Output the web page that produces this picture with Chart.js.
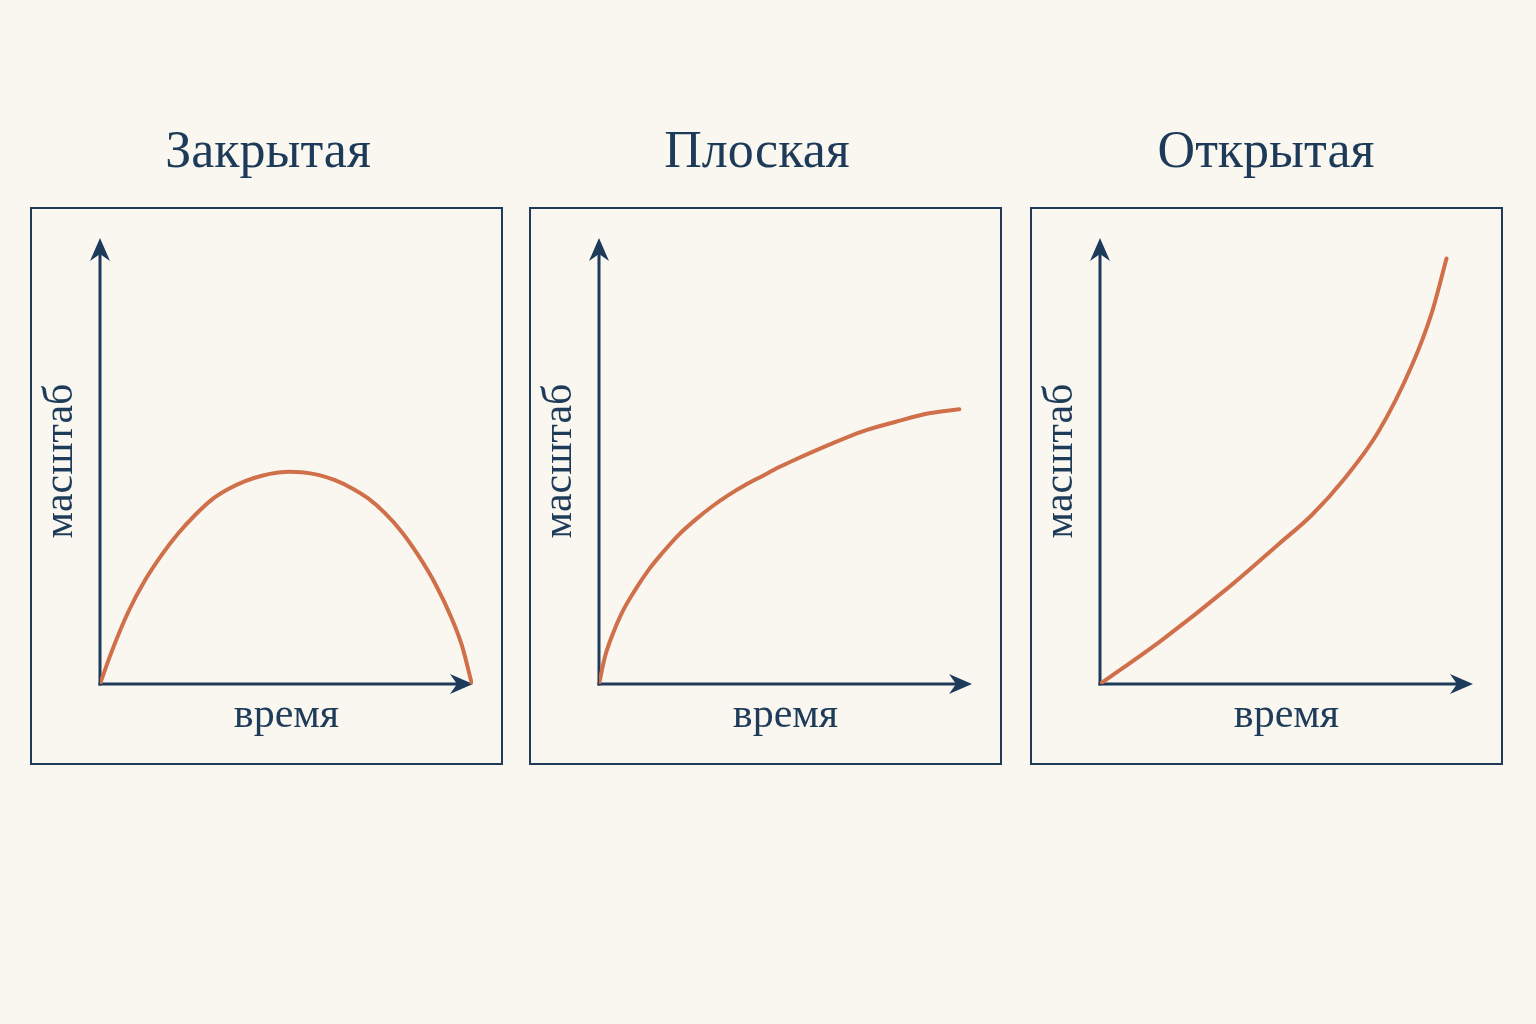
<!DOCTYPE html>
<html lang="ru">
<head>
<meta charset="utf-8">
<script src="https://cdn.jsdelivr.net/npm/chart.js"></script>
<style>
html,body{margin:0;padding:0;background:#faf7f1;}
body{width:1536px;height:1024px;position:relative;overflow:hidden;font-family:"Liberation Serif",serif;}
.title{position:absolute;top:124px;width:400px;margin-left:-200px;text-align:center;font-size:52px;line-height:52px;color:#1d3b58;white-space:nowrap;}
.box{position:absolute;top:207px;height:554px;width:469px;border:2px solid #1f3b57;}
.box canvas{position:absolute;left:0;top:0;}
</style>
</head>
<body>
<div class="title" style="left:268px">Закрытая</div>
<div class="title" style="left:757px">Плоская</div>
<div class="title" style="left:1266px">Открытая</div>
<div class="box" style="left:30px"><canvas id="c0" width="469" height="554"></canvas></div>
<div class="box" style="left:529px"><canvas id="c1" width="469" height="554"></canvas></div>
<div class="box" style="left:1030px"><canvas id="c2" width="469" height="554"></canvas></div>
<script>
// ---- data ----
const panelTitles = ['Закрытая', 'Плоская', 'Открытая'];
const xAxisLabel = 'время';
const yAxisLabel = 'масштаб';

const closedTime  = [0, 0.31, 0.76, 1.21, 1.65, 2.10, 2.55, 2.99, 3.44, 3.89, 4.34, 4.78, 5.09, 5.41, 5.85, 6.30, 6.75, 7.19, 7.64, 8.09, 8.53, 8.98, 9.43, 9.70, 9.97];
const closedScale = [0, 0.72, 1.62, 2.33, 2.89, 3.38, 3.79, 4.13, 4.37, 4.55, 4.67, 4.74, 4.76, 4.75, 4.69, 4.57, 4.39, 4.16, 3.83, 3.41, 2.89, 2.26, 1.47, 0.87, 0];

const flatTime  = [0, 0.16, 0.34, 0.61, 0.97, 1.33, 1.69, 2.13, 2.58, 3.03, 3.48, 3.92, 4.37, 4.82, 5.18, 6.16, 7.05, 7.96, 8.85, 9.66];
const flatScale = [0, 0.61, 1.06, 1.59, 2.11, 2.56, 2.93, 3.34, 3.68, 3.98, 4.24, 4.46, 4.66, 4.86, 5.00, 5.36, 5.66, 5.88, 6.07, 6.16];

const openTime  = [0, 1.65, 3.44, 4.78, 5.68, 6.57, 7.46, 8.36, 8.90, 9.29];
const openScale = [0, 0.98, 2.16, 3.13, 3.79, 4.62, 5.65, 7.14, 8.34, 9.54];

const axisMin = 0, axisMax = 10;

// ---- styling ----
const NAVY = '#1e3c5a';
const CURVE = '#d0704a';
const FONT = 'Liberation Serif';

const axisArrows = {
  id: 'axisArrows',
  beforeDatasetsDraw(chart) {
    const {ctx, scales: {x, y}} = chart;
    const x0 = x.getPixelForValue(x.min), x1 = x.getPixelForValue(x.max);
    const y0 = y.getPixelForValue(y.min), y1 = y.getPixelForValue(y.max);
    const L = 23, W = 10, N = 7;
    ctx.save();
    ctx.strokeStyle = NAVY; ctx.fillStyle = NAVY; ctx.lineWidth = 3; ctx.lineCap = 'butt';
    ctx.beginPath(); ctx.moveTo(x0 - 1.5, y0); ctx.lineTo(x1 - L + N, y0); ctx.stroke();
    ctx.beginPath(); ctx.moveTo(x0, y0 + 1.5); ctx.lineTo(x0, y1 + L - N); ctx.stroke();
    ctx.beginPath();
    ctx.moveTo(x1, y0); ctx.lineTo(x1 - L, y0 - W); ctx.lineTo(x1 - L + N, y0); ctx.lineTo(x1 - L, y0 + W);
    ctx.closePath(); ctx.fill();
    ctx.beginPath();
    ctx.moveTo(x0, y1); ctx.lineTo(x0 - W, y1 + L); ctx.lineTo(x0, y1 + L - N); ctx.lineTo(x0 + W, y1 + L);
    ctx.closePath(); ctx.fill();
    ctx.restore();
  }
};

function makePanel(id, times, values) {
  const pts = times.map((t, i) => ({x: t, y: values[i]}));
  return new Chart(document.getElementById(id), {
    type: 'line',
    data: { datasets: [{
      data: pts,
      borderColor: CURVE,
      borderWidth: 4,
      pointRadius: 0,
      fill: false,
      cubicInterpolationMode: 'monotone',
      borderCapStyle: 'round',
      borderJoinStyle: 'round'
    }]},
    options: {
      responsive: false,
      animation: false,
      events: [],
      layout: { padding: { top: 29, right: 28, left: 0, bottom: 0 } },
      plugins: { legend: { display: false }, tooltip: { enabled: false }, title: { display: false } },
      scales: {
        x: {
          type: 'linear', min: axisMin, max: axisMax,
          grid: { display: false }, border: { display: false }, ticks: { display: false },
          title: { display: true, text: xAxisLabel, color: NAVY, font: { family: FONT, size: 42 }, padding: { top: 0, bottom: 22 } },
          afterFit(s) { s.height = 79; }
        },
        y: {
          type: 'linear', min: axisMin, max: axisMax,
          grid: { display: false }, border: { display: false }, ticks: { display: false },
          title: { display: true, text: yAxisLabel, color: NAVY, font: { family: FONT, size: 42 }, padding: { top: 4, bottom: 0 } },
          afterFit(s) { s.width = 68; }
        }
      }
    },
    plugins: [axisArrows]
  });
}

makePanel('c0', closedTime, closedScale);
makePanel('c1', flatTime, flatScale);
makePanel('c2', openTime, openScale);
</script>
</body>
</html>
